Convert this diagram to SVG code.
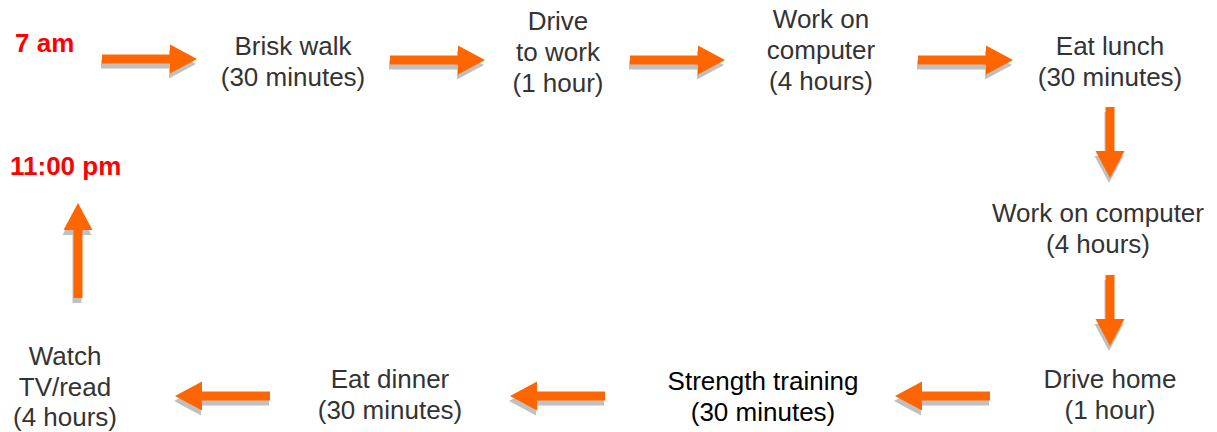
<svg xmlns="http://www.w3.org/2000/svg" xmlns:xlink="http://www.w3.org/1999/xlink" width="1217" height="432" viewBox="0 0 1217 432">
<style>
text{font-family:"Liberation Sans",Arial,sans-serif;font-size:26px;fill:#333;text-anchor:middle}
.red{fill:#ff0000;font-weight:bold;text-anchor:start}
.dark{fill:#000}
.arr{fill:#ff6600}
.shd{fill:#c0c0c0}
</style>
<defs>
<path id="aL" d="M0,-4.5H68V-14.5L95,0L68,14.5V4.5H0Z"/>
<path id="aS" d="M0,-4.5H44V-14.5L71,0L44,14.5V4.5H0Z"/>
</defs>
<rect width="1217" height="432" fill="#fff"/>
<g id="connectors">
<g transform="translate(102,59)"><use href="#aL" class="shd" x="-1" y="5"/><use href="#aL" class="arr"/></g>
<g transform="translate(390,60)"><use href="#aL" class="shd" x="-1" y="5"/><use href="#aL" class="arr"/></g>
<g transform="translate(630,60)"><use href="#aL" class="shd" x="-1" y="5"/><use href="#aL" class="arr"/></g>
<g transform="translate(918,60)"><use href="#aL" class="shd" x="-1" y="5"/><use href="#aL" class="arr"/></g>
<g transform="translate(1110,107) rotate(90)"><use href="#aS" class="shd" x="5" y="1"/><use href="#aS" class="arr"/></g>
<g transform="translate(1110,275) rotate(90)"><use href="#aS" class="shd" x="5" y="1"/><use href="#aS" class="arr"/></g>
<g transform="translate(990,396) rotate(180)"><use href="#aL" class="shd" x="1" y="-5"/><use href="#aL" class="arr"/></g>
<g transform="translate(605,396) rotate(180)"><use href="#aL" class="shd" x="1" y="-5"/><use href="#aL" class="arr"/></g>
<g transform="translate(270,396) rotate(180)"><use href="#aL" class="shd" x="1" y="-5"/><use href="#aL" class="arr"/></g>
<g transform="translate(78,298) rotate(-90)"><use href="#aL" class="shd" x="-5" y="-1"/><use href="#aL" class="arr"/></g>
</g>
<g id="start"><text class="red" x="15" y="52">7 am</text></g>
<g id="end"><text class="red" x="10" y="175">11:00 pm</text></g>
<g id="walk"><text x="293" y="55">Brisk walk</text><text x="293" y="86">(30 minutes)</text></g>
<g id="drive"><text x="558" y="30">Drive</text><text x="558" y="61">to work</text><text x="558" y="92">(1 hour)</text></g>
<g id="work1"><text x="821" y="28">Work on</text><text x="821" y="59">computer</text><text x="821" y="90">(4 hours)</text></g>
<g id="lunch"><text x="1110" y="55">Eat lunch</text><text x="1110" y="86">(30 minutes)</text></g>
<g id="work2"><text x="1098" y="222">Work on computer</text><text x="1098" y="253">(4 hours)</text></g>
<g id="home"><text x="1110" y="388">Drive home</text><text x="1110" y="419">(1 hour)</text></g>
<g id="strength"><text class="dark" x="763" y="390">Strength training</text><text class="dark" x="763" y="421">(30 minutes)</text></g>
<g id="dinner"><text x="390" y="388">Eat dinner</text><text x="390" y="419">(30 minutes)</text></g>
<g id="tv"><text x="65" y="365">Watch</text><text x="65" y="396">TV/read</text><text x="65" y="426">(4 hours)</text></g>
</svg>
